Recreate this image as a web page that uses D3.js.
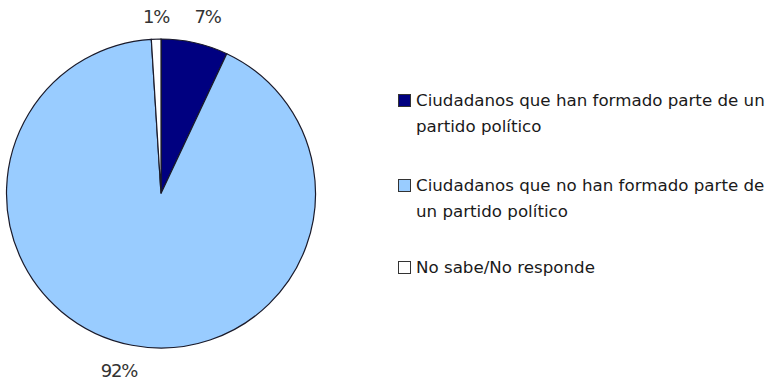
<!DOCTYPE html>
<html><head><meta charset="utf-8">
<script src="https://cdn.jsdelivr.net/npm/d3@7"></script>
<style>body{margin:0;background:#fff}svg{display:block}</style>
</head><body>
<script>
const categories = ["Ciudadanos que han formado parte de un partido político","Ciudadanos que no han formado parte de un partido político","No sabe/No responde"];
const legendLines = [["Ciudadanos que han formado parte de un","partido político"],["Ciudadanos que no han formado parte de","un partido político"],["No sabe/No responde"]];
const values = [7, 92, 1];
const colors = ["#000080", "#99ccff", "#ffffff"];

const W = 773, H = 384;
const svg = d3.select("body").append("svg").attr("width", W).attr("height", H);
const cx = 161, cy = 193.5, r = 154.5;
const pie = d3.pie().sort(null).value(d => d)(values);
const arc = d3.arc().innerRadius(0).outerRadius(r);
const g = svg.append("g").attr("transform", `translate(${cx},${cy})`);
g.selectAll("path").data(pie).join("path")
  .attr("d", arc).attr("fill", (d,i) => colors[i])
  .attr("stroke", "#1a1a2a").attr("stroke-width", 1.2);

const labelPos = [[46.5, -170.5], [-42, 183.5], [-5, -170.5]];
g.selectAll("text.lbl").data(pie).join("text").attr("class","lbl")
  .attr("x", (d,i) => labelPos[i][0]).attr("y", (d,i) => labelPos[i][1])
  .attr("text-anchor","middle").attr("font-family","'DejaVu Sans', sans-serif")
  .attr("font-size", 18).attr("fill","#333").attr("letter-spacing", -1.2)
  .text(d => d.value + "%");

const lg = svg.append("g");
const itemY = [101, 186, 268];
const font = "'DejaVu Sans', sans-serif";
let fs = 15;
const probe = svg.append("text").attr("font-family", font).attr("font-size", fs).text(legendLines[0][0]);
const wlen = probe.node().getComputedTextLength();
probe.remove();
fs = fs * 349 / wlen;
legendLines.forEach((lines, i) => {
  lg.append("rect").attr("x", 398.5).attr("y", itemY[i] - 6.5).attr("width", 12).attr("height", 12)
    .attr("fill", colors[i]).attr("stroke", "#333").attr("stroke-width", 1);
  lines.forEach((t, j) => {
    lg.append("text").attr("x", 416).attr("y", itemY[i] + 5 + j * 26)
      .attr("font-family", font).attr("font-size", fs)
      .attr("fill", "#1a1a1a").text(t);
  });
});
</script>
</body></html>
